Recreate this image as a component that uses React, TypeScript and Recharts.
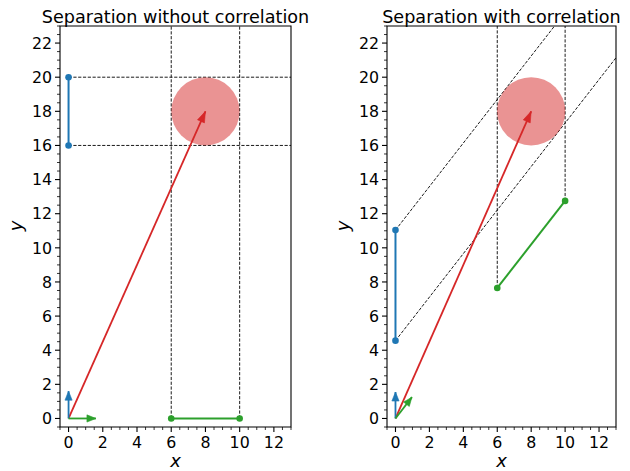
import React from 'react';
import { ComposedChart, Line, XAxis, YAxis, ReferenceArea } from 'recharts';

type Pt = { x: number; y: number };

// ---------- axes ----------
const X_DOMAIN: [number, number] = [-0.5, 13];
const Y_DOMAIN: [number, number] = [-0.5, 23];
const X_TICK_LABELS = [0, 2, 4, 6, 8, 10, 12];
const Y_TICK_LABELS = [0, 2, 4, 6, 8, 10, 12, 14, 16, 18, 20, 22];
const MINOR_STEP = 0.5;
const TITLES = ['Separation without correlation', 'Separation with correlation'];
const X_LABEL = 'x';
const Y_LABEL = 'y';

// ---------- shared ----------
const target: Pt[] = [{ x: 8, y: 18 }];
const targetRadius = 2;
const redArrow: Pt[] = [{ x: 0, y: 0 }, { x: 8, y: 18 }];

// ---------- left panel (no correlation) ----------
const leftBlueSeg: Pt[] = [{ x: 0, y: 16 }, { x: 0, y: 20 }];
const leftGreenSeg: Pt[] = [{ x: 6, y: 0 }, { x: 10, y: 0 }];
const leftGuides: Pt[][] = [
  [{ x: 0, y: 20 }, { x: 13, y: 20 }],
  [{ x: 0, y: 16 }, { x: 13, y: 16 }],
  [{ x: 6, y: 0 }, { x: 6, y: 23 }],
  [{ x: 10, y: 0 }, { x: 10, y: 23 }],
];
const leftBlueArrow: Pt[] = [{ x: 0, y: 0 }, { x: 0, y: 1.6 }];
const leftGreenArrow: Pt[] = [{ x: 0, y: 0 }, { x: 1.6, y: 0 }];

// ---------- right panel (with correlation) ----------
const rightBlueSeg: Pt[] = [{ x: 0, y: 4.56 }, { x: 0, y: 11.04 }];
const rightGreenSeg: Pt[] = [{ x: 6, y: 7.65 }, { x: 10, y: 12.75 }];
const rightGuides: Pt[][] = [
  [{ x: 0, y: 11.04 }, { x: 13, y: 27.62 }],
  [{ x: 0, y: 4.56 }, { x: 13, y: 21.14 }],
  [{ x: 6, y: 7.65 }, { x: 6, y: 23 }],
  [{ x: 10, y: 12.75 }, { x: 10, y: 23 }],
];
const rightBlueArrow: Pt[] = [{ x: 0, y: 0 }, { x: 0, y: 1.55 }];
const rightGreenArrow: Pt[] = [{ x: 0, y: 0 }, { x: 0.97, y: 1.25 }];

// ---------- style ----------
const BLUE = '#1f77b4';
const GREEN = '#2ca02c';
const RED = '#d62728';
const FONT = 'DejaVu Sans, Verdana, sans-serif';
const TICK_FS = 15.8;
const CHART_H = 471;
const PLOT_TOP = 26;
const XAXIS_H = 44;
const PLOT_H = CHART_H - PLOT_TOP - XAXIS_H;

const buildTicks = (lo: number, hi: number): number[] => {
  const out: number[] = [];
  const n = Math.round((hi - lo) / MINOR_STEP);
  for (let i = 0; i <= n; i++) out.push(lo + i * MINOR_STEP);
  return out;
};
const X_TICKS = buildTicks(X_DOMAIN[0], X_DOMAIN[1]);
const Y_TICKS = buildTicks(Y_DOMAIN[0], Y_DOMAIN[1]);

const XTick = (props: any) => {
  const { x, y, payload } = props;
  const v = payload.value as number;
  const major = X_TICK_LABELS.includes(v);
  return (
    <g>
      <line x1={x} x2={x} y1={y} y2={y + (major ? 5 : 3)} stroke="#000" strokeWidth={major ? 1.1 : 0.8} />
      {major && (
        <text x={x} y={y + 21} textAnchor="middle" fontSize={TICK_FS} fontFamily={FONT} fill="#000">
          {v}
        </text>
      )}
    </g>
  );
};

const YTick = (props: any) => {
  const { x, y, payload } = props;
  const v = payload.value as number;
  const major = Y_TICK_LABELS.includes(v);
  return (
    <g>
      <line x1={x} x2={x - (major ? 5 : 3)} y1={y} y2={y} stroke="#000" strokeWidth={major ? 1.1 : 0.8} />
      {major && (
        <text x={x - 8} y={y + 5.7} textAnchor="end" fontSize={TICK_FS} fontFamily={FONT} fill="#000">
          {v}
        </text>
      )}
    </g>
  );
};

const arrowHead = (color: string, len: number, half: number) => (props: any) => {
  const { cx, cy, index, points } = props;
  if (!points || index !== points.length - 1) return <g key={`n-${index}`} />;
  const p0 = points[0];
  const dx = cx - p0.x;
  const dy = cy - p0.y;
  const d = Math.hypot(dx, dy) || 1;
  const ux = dx / d;
  const uy = dy / d;
  const bx = cx - ux * len;
  const by = cy - uy * len;
  const nx = -uy;
  const ny = ux;
  return (
    <polygon
      key={`h-${index}`}
      points={`${cx},${cy} ${bx + nx * half},${by + ny * half} ${bx - nx * half},${by - ny * half}`}
      fill={color}
      stroke={color}
      strokeWidth={0.6}
    />
  );
};

const circleR = (targetRadius * PLOT_H) / (Y_DOMAIN[1] - Y_DOMAIN[0]);
const targetDot = (props: any) => (
  <circle key={`c-${props.index}`} cx={props.cx} cy={props.cy} r={circleR} fill={RED} fillOpacity={0.5} stroke="none" />
);

type PanelProps = {
  width: number;
  yAxisWidth: number;
  marginRight: number;
  blueSeg: Pt[];
  greenSeg: Pt[];
  guides: Pt[][];
  blueArrow: Pt[];
  greenArrow: Pt[];
};

const Panel = ({ width, yAxisWidth, marginRight, blueSeg, greenSeg, guides, blueArrow, greenArrow }: PanelProps) => (
  <ComposedChart width={width} height={CHART_H} margin={{ top: PLOT_TOP, right: marginRight, bottom: 0, left: 0 }}>
    <XAxis
      type="number"
      dataKey="x"
      domain={X_DOMAIN}
      allowDataOverflow
      ticks={X_TICKS}
      interval={0}
      tick={<XTick />}
      tickLine={false}
      axisLine={false}
      tickSize={0}
      tickMargin={0}
      height={XAXIS_H}
    />
    <YAxis
      type="number"
      dataKey="y"
      domain={Y_DOMAIN}
      allowDataOverflow
      ticks={Y_TICKS}
      interval={0}
      tick={<YTick />}
      tickLine={false}
      axisLine={false}
      tickSize={0}
      tickMargin={0}
      width={yAxisWidth}
    />
    <Line data={target} dataKey="y" stroke="none" dot={targetDot} activeDot={false} isAnimationActive={false} />
    {guides.map((g, i) => (
      <Line
        key={`g${i}`}
        data={g}
        dataKey="y"
        stroke="#000"
        strokeWidth={0.9}
        strokeDasharray="3.2 1.6"
        dot={false}
        activeDot={false}
        isAnimationActive={false}
      />
    ))}
    <Line data={blueSeg} dataKey="y" stroke={BLUE} strokeWidth={2} dot={{ r: 3.3, fill: BLUE, stroke: BLUE, strokeWidth: 0 }} activeDot={false} isAnimationActive={false} />
    <Line data={greenSeg} dataKey="y" stroke={GREEN} strokeWidth={2} dot={{ r: 3.3, fill: GREEN, stroke: GREEN, strokeWidth: 0 }} activeDot={false} isAnimationActive={false} />
    <Line data={redArrow} dataKey="y" stroke={RED} strokeWidth={1.8} dot={arrowHead(RED, 11, 3.8)} activeDot={false} isAnimationActive={false} />
    <Line data={blueArrow} dataKey="y" stroke={BLUE} strokeWidth={1.8} dot={arrowHead(BLUE, 9, 3.6)} activeDot={false} isAnimationActive={false} />
    <Line data={greenArrow} dataKey="y" stroke={GREEN} strokeWidth={1.8} dot={arrowHead(GREEN, 9, 3.6)} activeDot={false} isAnimationActive={false} />
    <ReferenceArea x1={X_DOMAIN[0]} x2={X_DOMAIN[1]} y1={Y_DOMAIN[0]} y2={Y_DOMAIN[1]} fill="none" stroke="#000" strokeWidth={1.1} fillOpacity={0} />
  </ComposedChart>
);

export default function App() {
  return (
    <div style={{ position: 'absolute', left: 0, top: 0, width: 630, height: 471, background: '#fff' }}>
      <div style={{ position: 'absolute', left: 0, top: 0 }}>
        <Panel
          width={320}
          yAxisWidth={60}
          marginRight={29}
          blueSeg={leftBlueSeg}
          greenSeg={leftGreenSeg}
          guides={leftGuides}
          blueArrow={leftBlueArrow}
          greenArrow={leftGreenArrow}
        />
      </div>
      <div style={{ position: 'absolute', left: 320, top: 0 }}>
        <Panel
          width={310}
          yAxisWidth={67}
          marginRight={14}
          blueSeg={rightBlueSeg}
          greenSeg={rightGreenSeg}
          guides={rightGuides}
          blueArrow={rightBlueArrow}
          greenArrow={rightGreenArrow}
        />
      </div>
      <svg width={630} height={471} style={{ position: 'absolute', left: 0, top: 0, pointerEvents: 'none' }}>
        <text x={175.5} y={22.5} textAnchor="middle" fontSize={17.6} fontFamily={FONT} fill="#000">{TITLES[0]}</text>
        <text x={501.5} y={22.5} textAnchor="middle" fontSize={17.6} fontFamily={FONT} fill="#000">{TITLES[1]}</text>
        <text x={175.5} y={467} textAnchor="middle" fontSize={18} fontStyle="italic" fontFamily={FONT} fill="#000">{X_LABEL}</text>
        <text x={501.5} y={467} textAnchor="middle" fontSize={18} fontStyle="italic" fontFamily={FONT} fill="#000">{X_LABEL}</text>
        <text x={22} y={226} textAnchor="middle" fontSize={18} fontStyle="italic" fontFamily={FONT} fill="#000" transform="rotate(-90 22 226)">{Y_LABEL}</text>
        <text x={349} y={226} textAnchor="middle" fontSize={18} fontStyle="italic" fontFamily={FONT} fill="#000" transform="rotate(-90 349 226)">{Y_LABEL}</text>
      </svg>
    </div>
  );
}
